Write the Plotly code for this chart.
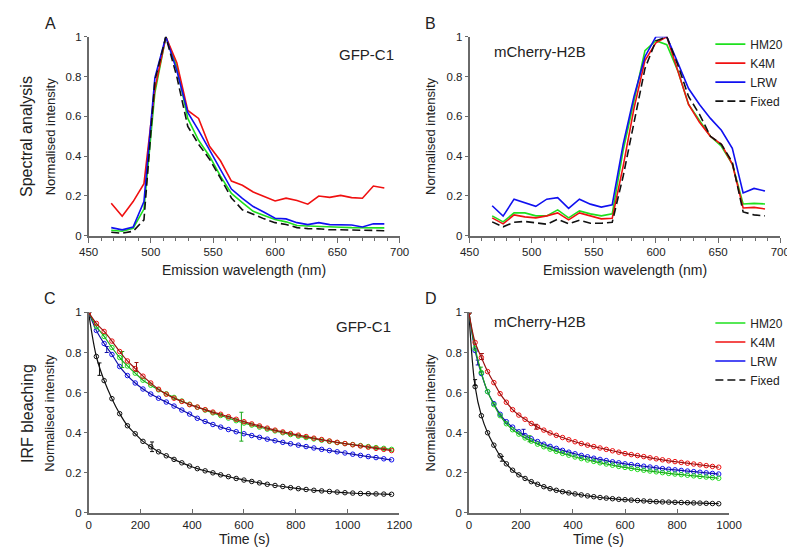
import plotly.graph_objects as go

W, H = 795, 554
def px(x): return x / W
def py(y): return 1 - y / H

# ---------------- data ----------------
wavelength = [468.2, 477.0, 485.8, 494.5, 503.3, 512.1, 520.9, 529.7, 538.4, 547.2, 556.0, 564.8, 573.6,
              582.3, 591.1, 599.9, 608.7, 617.5, 626.2, 635.0, 643.8, 652.6, 661.4, 670.1, 678.9, 687.7]

# Panel A (GFP-C1 spectra)
gfp_hm20 = [.028, .023, .038, .134, .72, 1.0, .85, .59, .48, .40, .30, .213, .167, .123, .102, .082, .070, .052,
            .049, .048, .046, .043, .041, .041, .040, .040]
gfp_k4m = [.164, .098, .172, .262, .74, 1.0, .87, .63, .59, .45, .377, .275, .254, .22, .197, .175, .189, .177,
           .159, .20, .193, .203, .192, .189, .25, .24]
gfp_lrw = [.041, .030, .044, .172, .795, 1.0, .83, .62, .53, .43, .336, .235, .188, .147, .118, .088, .085, .066,
           .056, .066, .056, .056, .054, .044, .06, .06]
gfp_fixed = [.018, .013, .023, .08, .78, 1.0, .80, .55, .46, .385, .29, .19, .131, .107, .085, .066, .057, .041,
             .036, .035, .030, .030, .030, .028, .027, .025]

# Panel B (mCherry-H2B spectra)
mch_hm20 = [.10, .07, .115, .115, .10, .10, .13, .09, .125, .11, .10, .11, .43, .68, .93, .98, .96, .83, .66,
            .58, .50, .45, .36, .16, .163, .16]
mch_k4m = [.09, .06, .105, .095, .09, .10, .115, .08, .115, .10, .085, .088, .35, .64, .88, .97, 1.0, .83, .66,
           .57, .50, .46, .36, .14, .143, .135]
mch_lrw = [.151, .099, .184, .167, .148, .184, .192, .138, .184, .159, .144, .156, .46, .70, .90, 1.0, 1.0, .87,
           .74, .66, .59, .53, .44, .215, .238, .225]
mch_fixed = [.07, .045, .068, .072, .065, .058, .083, .06, .078, .063, .063, .068, .30, .57, .84, .98, 1.0, .86,
             .70, .61, .50, .46, .37, .12, .105, .10]

# Panel C (GFP-C1 bleaching)
time_c = [0, 30, 60, 90, 120, 150, 180, 210, 240, 270, 300, 330, 360, 390, 420, 450, 480, 510, 540, 570,
          600, 630, 660, 690, 720, 750, 780, 810, 840, 870, 900, 930, 960, 990, 1020, 1050, 1080, 1110, 1140, 1170]
c_hm20 = [1.0, .93, .88, .825, .775, .733, .697, .662, .637, .614, .594, .576, .558, .542, .527, .513, .499, .486,
          .473, .46, .448, .438, .428, .418, .409, .40, .391, .383, .376, .369, .363, .357, .351, .346, .341, .336,
          .331, .326, .322, .317]
c_k4m = [1.0, .945, .905, .857, .805, .758, .72, .682, .648, .617, .592, .572, .556, .54, .528, .515, .503, .492,
         .48, .467, .455, .444, .434, .423, .413, .404, .396, .388, .381, .373, .366, .359, .352, .346, .34, .334,
         .328, .322, .317, .311]
c_lrw = [1.0, .91, .845, .79, .73, .685, .648, .618, .593, .572, .553, .533, .513, .493, .472, .456, .441, .428,
         .416, .405, .395, .386, .377, .368, .36, .352, .345, .338, .331, .324, .317, .311, .305, .299, .293, .287,
         .281, .276, .27, .265]
c_fixed = [1.0, .78, .66, .57, .495, .435, .395, .357, .33, .305, .285, .267, .25, .234, .221, .21, .2, .19,
           .181, .172, .164, .157, .15, .143, .137, .132, .126, .121, .117, .113, .11, .107, .104, .101, .099, .097,
           .096, .095, .094, .093]

# Panel D (mCherry-H2B bleaching)
time_d = [0, 24, 48, 72, 96, 120, 144, 168, 192, 216, 240, 264, 288, 312, 336, 360, 384, 408, 432, 456, 480,
          504, 528, 552, 576, 600, 624, 648, 672, 696, 720, 744, 768, 792, 816, 840, 864, 888, 912, 936, 960]
d_hm20 = [1.0, .82, .70, .605, .54, .485, .445, .415, .393, .374, .358, .343, .33, .318, .307, .297, .288, .279,
          .271, .264, .257, .25, .244, .238, .232, .227, .222, .217, .213, .209, .205, .201, .197, .194, .191, .188,
          .185, .182, .179, .176, .173]
d_k4m = [1.0, .85, .775, .705, .65, .595, .552, .515, .488, .467, .446, .428, .413, .399, .387, .376, .365, .355,
         .346, .338, .331, .324, .317, .31, .303, .296, .291, .286, .281, .275, .27, .265, .26, .256, .252, .248,
         .244, .24, .236, .232, .228]
d_lrw = [1.0, .81, .695, .605, .545, .492, .455, .428, .405, .386, .37, .356, .343, .332, .322, .312, .303, .295,
         .287, .28, .273, .267, .261, .255, .25, .245, .241, .237, .233, .229, .225, .221, .218, .215, .212, .209,
         .206, .203, .20, .197, .194]
d_fixed = [1.0, .63, .485, .40, .338, .285, .245, .213, .19, .172, .156, .143, .131, .121, .113, .106, .10, .095,
           .09, .085, .081, .077, .074, .071, .068, .066, .064, .062, .06, .058, .056, .055, .054, .053, .052, .051,
           .05, .049, .048, .047, .046]

# error bars (time, value, half-width)
c_err = {
    "HM20": ([130, 590], [.765, .43], [.04, .072]),
    "K4M": ([185], [.728], [.022]),
    "LRW": ([70], [.815], [.015]),
    "Fixed": ([42, 245], [.717, .33], [.031, .024]),
}
d_err = {
    "HM20": ([46, 233], [.715, .37], [.012, .015]),
    "K4M": ([50, 258], [.78, .43], [.015, .012]),
    "LRW": ([34, 210], [.75, .405], [.012, .012]),
    "Fixed": ([24, 127], [.65, .27], [.015, .012]),
}

names = ["HM20", "K4M", "LRW", "Fixed"]
colors = {"HM20": "#1ee01e", "K4M": "#f01010", "LRW": "#1010f0", "Fixed": "#111111"}
fit_colors = {"HM20": "#1aa81a", "K4M": "#9a1010", "LRW": "#1010a8", "Fixed": "#111111"}

FONT = "Liberation Sans, Arial, sans-serif"
AX = "#6a6a6a"

fig = go.Figure()

spectra_a = {"HM20": gfp_hm20, "K4M": gfp_k4m, "LRW": gfp_lrw, "Fixed": gfp_fixed}
spectra_b = {"HM20": mch_hm20, "K4M": mch_k4m, "LRW": mch_lrw, "Fixed": mch_fixed}
for n in names:
    dash = "8px,4px" if n == "Fixed" else "solid"
    fig.add_trace(go.Scatter(x=wavelength, y=spectra_a[n], mode="lines", xaxis="x", yaxis="y",
                             line=dict(color=colors[n], width=1.6, dash=dash), showlegend=False))
for n in names:
    dash = "8px,4px" if n == "Fixed" else "solid"
    fig.add_trace(go.Scatter(x=wavelength, y=spectra_b[n], mode="lines", xaxis="x2", yaxis="y2", name=n,
                             line=dict(color=colors[n], width=1.6, dash=dash), showlegend=True, legend="legend"))

bleach_c = {"HM20": c_hm20, "K4M": c_k4m, "LRW": c_lrw, "Fixed": c_fixed}
bleach_d = {"HM20": d_hm20, "K4M": d_k4m, "LRW": d_lrw, "Fixed": d_fixed}
for (tt, data, errs, xa, ya) in [(time_c, bleach_c, c_err, "x3", "y3"), (time_d, bleach_d, d_err, "x4", "y4")]:
    for n in ["Fixed", "LRW", "HM20", "K4M"]:
        fig.add_trace(go.Scatter(x=tt, y=data[n], mode="markers", xaxis=xa, yaxis=ya, showlegend=False,
                                 marker=dict(symbol="circle-open", size=4.5, color=colors[n],
                                             line=dict(width=1, color=colors[n]))))
        fig.add_trace(go.Scatter(x=tt, y=data[n], mode="lines", xaxis=xa, yaxis=ya, showlegend=False,
                                 line=dict(color=fit_colors[n], width=1.2, shape="spline")))
        et, ev, ee = errs[n]
        fig.add_trace(go.Scatter(x=et, y=ev, mode="markers", xaxis=xa, yaxis=ya, showlegend=False,
                                 marker=dict(size=1, color=fit_colors[n], opacity=0),
                                 error_y=dict(type="data", array=ee, visible=True, color=fit_colors[n],
                                              thickness=1, width=2)))

# legend entries for panel D
for n in names:
    dash = "8px,4px" if n == "Fixed" else "solid"
    fig.add_trace(go.Scatter(x=[None], y=[None], mode="lines", xaxis="x4", yaxis="y4", name=n,
                             line=dict(color=colors[n], width=1.6, dash=dash), showlegend=True, legend="legend2"))

tickfont = dict(family=FONT, size=11.5, color="#222")

def xspec(domain, anchor):
    return dict(domain=domain, anchor=anchor, range=[450, 700], tickvals=[450, 500, 550, 600, 650, 700],
                showline=True, linecolor=AX, linewidth=1.5, ticks="outside", ticklen=5, tickcolor=AX,
                tickwidth=1, showgrid=False, zeroline=False, tickfont=tickfont,
                minor=dict(dtick=10, tick0=450, ticks="outside", ticklen=3, tickcolor=AX, showgrid=False))

def yax(domain, anchor):
    return dict(domain=domain, anchor=anchor, range=[0, 1], tickvals=[0, 0.2, 0.4, 0.6, 0.8, 1],
                ticktext=["0", "0.2", "0.4", "0.6", "0.8", "1"],
                showline=True, linecolor=AX, linewidth=1.5, ticks="outside", ticklen=3, tickcolor=AX,
                showgrid=False, zeroline=False, tickfont=tickfont)

def xtime(domain, anchor, rng, vals):
    return dict(domain=domain, anchor=anchor, range=rng, tickvals=vals,
                showline=True, linecolor=AX, linewidth=1.5, ticks="inside", ticklen=4, tickcolor=AX,
                showgrid=False, zeroline=False, tickfont=tickfont)

ytop = [py(226.7), py(23.3)]
ybot = [py(510), py(305)]
fig.update_layout(
    width=W, height=H, autosize=False,
    margin=dict(l=0, r=0, t=0, b=0),
    paper_bgcolor="white", plot_bgcolor="white",
    font=dict(family=FONT, color="#222"),
    xaxis=xspec([px(72.7), px(393)], "y"),
    yaxis=yax(ytop, "x"),
    xaxis2=xspec([px(465), px(785)], "y2"),
    yaxis2=yax(ytop, "x2"),
    xaxis3=xtime([px(72.7), px(392.7)], "y3", [0, 1200], [0, 200, 400, 600, 800, 1000, 1200]),
    yaxis3=yax(ybot, "x3"),
    xaxis4=xtime([px(464.3), px(732.3)], "y4", [0, 1000], [0, 200, 400, 600, 800, 1000]),
    yaxis4=yax(ybot, "x4"),
    legend=dict(x=px(713), y=py(16), xanchor="left", yanchor="top", bgcolor="rgba(0,0,0,0)",
                font=dict(family=FONT, size=12, color="#222"), tracegroupgap=0, itemwidth=30),
    legend2=dict(x=px(713), y=py(301), xanchor="left", yanchor="top", bgcolor="rgba(0,0,0,0)",
                 font=dict(family=FONT, size=12, color="#222"), tracegroupgap=0, itemwidth=30),
)

def ann(text, x, y, size, angle=0, xanchor="center"):
    fig.add_annotation(text=text, x=px(x), y=py(y), xref="paper", yref="paper", showarrow=False,
                       textangle=angle, xanchor=xanchor, yanchor="middle",
                       font=dict(family=FONT, size=size, color="#222"))

ann("A", 33, 10, 16)
ann("B", 425, 10, 16)
ann("C", 33, 291, 16)
ann("D", 425, 291, 16)
ann("Spectral analysis", 9, 125, 16, -90)
ann("IRF bleaching", 9, 408, 16, -90)
for yc in [125, 407.5]:
    ann("Normalised intensity", 33, yc, 13, -90)
    ann("Normalised intensity", 425, yc, 13, -90)
ann("Emission wavelength (nm)", 233, 262, 14)
ann("Emission wavelength (nm)", 625, 262, 14)
ann("Time (s)", 233, 537, 14)
ann("Time (s)", 598, 537, 14)
ann("GFP-C1", 328, 41, 15, xanchor="left")
ann("GFP-C1", 325, 319, 15, xanchor="left")
ann("mCherry-H2B", 488, 38, 15, xanchor="left")
ann("mCherry-H2B", 488, 314, 15, xanchor="left")

fig.write_html("out.html")
